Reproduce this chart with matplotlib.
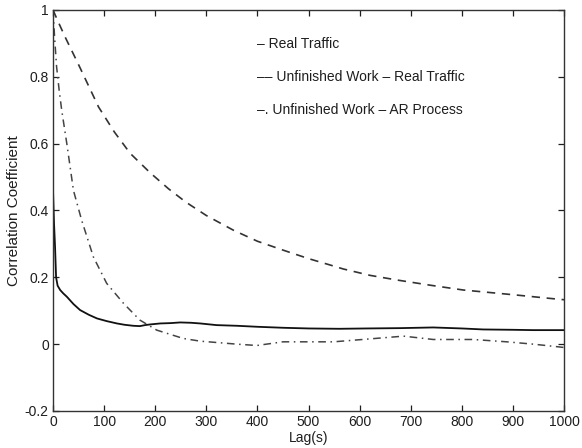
import matplotlib
matplotlib.use("Agg")
import matplotlib.pyplot as plt

plt.rcParams['font.family'] = ['Liberation Sans', 'DejaVu Sans']

# Correlation of the real traffic itself
lag_real = [0, 2, 4, 6, 9, 14, 20, 27, 40, 53, 70, 86, 105, 125, 140, 157, 170, 180,
            190, 210, 230, 249, 270, 288, 320, 360, 400, 451, 500, 560, 614, 680,
            744, 800, 842, 900, 940, 1000]
corr_real = [0.46, 0.36, 0.29, 0.20, 0.175, 0.162, 0.152, 0.142, 0.12, 0.102, 0.088,
             0.077, 0.069, 0.062, 0.058, 0.055, 0.054, 0.057, 0.059, 0.062, 0.063,
             0.065, 0.064, 0.062, 0.057, 0.055, 0.052, 0.049, 0.047, 0.046, 0.047,
             0.048, 0.050, 0.047, 0.044, 0.043, 0.042, 0.042]

# Unfinished work driven by the real traffic
lag_uw_real = [0, 10, 25, 52, 89, 120, 151, 190, 226, 260, 300, 353, 400, 451, 500,
               542, 568, 620, 673, 740, 803, 900, 992, 1000]
corr_uw_real = [1.0, 0.965, 0.915, 0.83, 0.71, 0.635, 0.571, 0.513, 0.465, 0.425,
                0.385, 0.341, 0.308, 0.281, 0.256, 0.237, 0.225, 0.206, 0.192, 0.176,
                0.162, 0.148, 0.134, 0.133]

# Unfinished work driven by the AR process
lag_uw_ar = [0, 3, 7, 12, 17, 27, 40, 56, 79, 105, 138, 170, 203, 255, 288, 320,
             360, 399, 450, 549, 614, 686, 744, 822, 888, 940, 989, 1000]
corr_uw_ar = [1.0, 0.92, 0.83, 0.76, 0.70, 0.60, 0.46, 0.371, 0.261, 0.182, 0.122,
              0.072, 0.042, 0.017, 0.009, 0.005, 0.0, -0.004, 0.007, 0.007, 0.015,
              0.024, 0.014, 0.014, 0.007, 0.0, -0.008, -0.01]

legend_lines = ["\u2013 Real Traffic",
                "\u2013\u2013 Unfinished Work \u2013 Real Traffic",
                "\u2013. Unfinished Work \u2013 AR Process"]

xticks = [0, 100, 200, 300, 400, 500, 600, 700, 800, 900, 1000]
yticks = [-0.2, 0, 0.2, 0.4, 0.6, 0.8, 1]
ytick_labels = ["-0.2", "0", "0.2", "0.4", "0.6", "0.8", "1"]

ink = "#1e1e1e"

fig = plt.figure(figsize=(5.82, 4.48), dpi=100)
ax = fig.add_axes([0.0911, 0.0826, 0.878, 0.8951])

ax.plot(lag_real, corr_real, color="#111111", lw=1.3, ls="-")
ax.plot(lag_uw_real, corr_uw_real, color="#333333", lw=1.2, ls=(0, (5, 4)))
ax.plot(lag_uw_ar, corr_uw_ar, color="#444444", lw=1.1, ls=(0, (5, 3, 1, 3)))

ax.set_xlim(0, 1000)
ax.set_ylim(-0.2, 1)
ax.set_xticks(xticks)
ax.set_yticks(yticks)
ax.set_yticklabels(ytick_labels)
ax.tick_params(direction="in", length=4, width=0.9, top=True, right=True,
               labelsize=10, colors=ink, pad=3)
for s in ax.spines.values():
    s.set_color("#333333")
    s.set_linewidth(1.0)

ax.set_xlabel("Lag(s)", fontsize=10, color=ink, labelpad=1)
ax.set_ylabel("Correlation Coefficient", fontsize=11, color=ink, labelpad=3)

for i, t in enumerate(legend_lines):
    ax.text(400, 0.898 - i * 0.098, t, fontsize=10, color=ink,
            ha="left", va="center", transform=ax.transData)

fig.savefig("out.png", dpi=100, facecolor="white")
